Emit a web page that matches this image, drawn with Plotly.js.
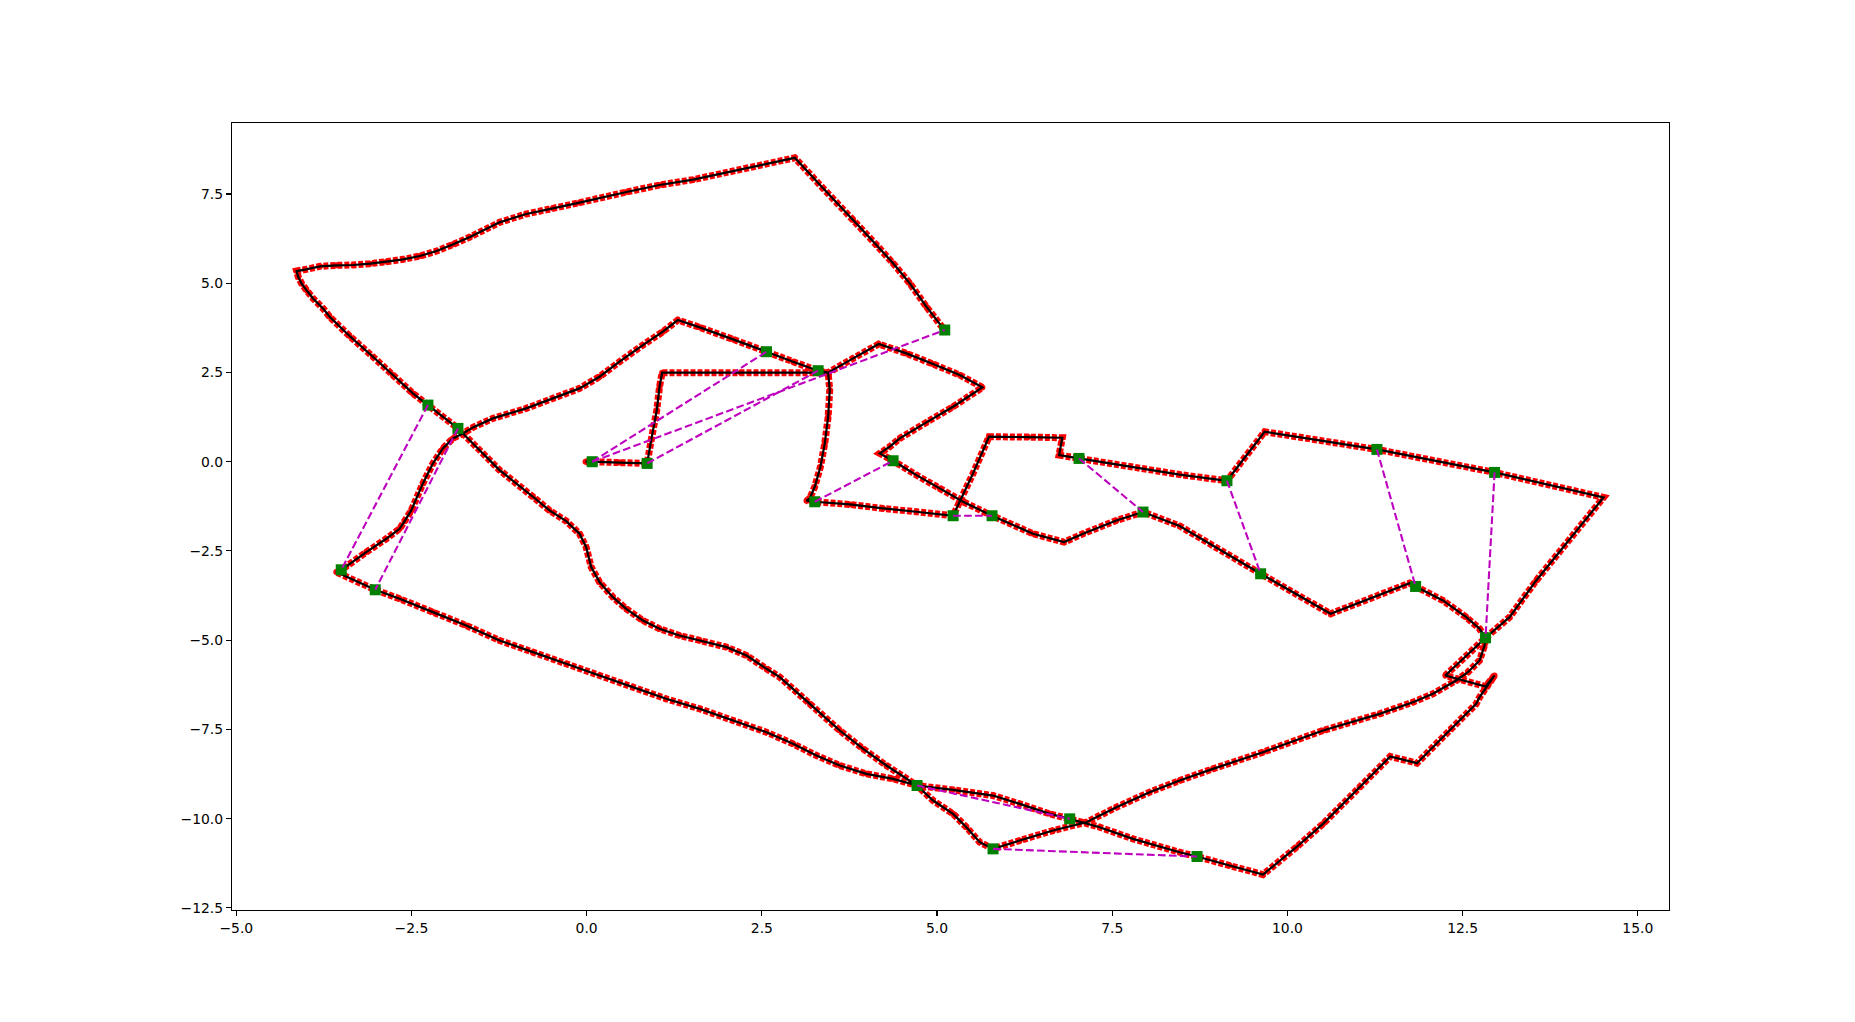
<!DOCTYPE html>
<html>
<head>
<meta charset="utf-8">
<script src="https://cdn.plot.ly/plotly-3.0.1.min.js"></script>
<style>
  html, body { margin: 0; padding: 0; background: #ffffff; }
  #chart { width: 1855px; height: 1022px; }
</style>
</head>
<body>
<div id="chart"></div>
<script>
// Trajectory (in travel order)
const pathX = [
  -0.016, 0.079, 0.470, 0.863, 0.921, 1.001, 1.040, 1.077, 2.200, 3.446,
  3.469, 3.446, 3.398, 3.336, 3.255, 3.184, 3.137, 3.255, 3.755, 4.230,
  4.706, 5.229, 5.514, 5.742, 6.300, 6.788, 6.741, 7.026, 8.462, 9.137,
  9.675, 11.277, 12.956, 14.511, 13.551, 13.170, 12.827, 12.253, 12.827, 12.956,
  12.742, 12.694, 12.338, 11.848, 11.467, 11.030, 10.507, 10.127, 9.651, 9.175,
  8.710, 8.462, 7.796, 7.321, 6.893, 6.608, 6.180, 5.799, 5.229, 4.715,
  4.373, 3.992, 3.612, 3.279, 2.946, 2.566, 2.090, 1.615, 1.135, 0.659,
  0.184, -0.292, -0.767, -1.243, -1.719, -2.194, -2.669, -3.017, -3.573, -3.502,
  -3.430, -3.145, -2.860, -2.669, -2.600, -2.503, -2.337, -2.194, -2.051, -1.909,
  -1.766, -1.623, -1.338, -0.863, -0.482, -0.102, 0.184, 0.469, 0.802, 1.088,
  1.301, 1.615, 2.090, 2.566, 2.946, 3.303, 3.446, 3.802, 4.168, 4.563,
  4.943, 5.324, 5.647, 5.229, 4.848, 4.468, 4.325, 4.183, 4.373, 4.706,
  5.039, 5.371, 5.785, 6.037, 6.370, 6.812, 7.083, 7.559, 7.939, 8.462,
  9.618, 10.616, 11.743, 11.829, 12.218, 12.552, 12.742, 12.827, 12.813, 12.742,
  12.575, 12.409, 12.076, 11.791, 11.315, 10.507, 9.651, 8.937, 8.462, 8.034,
  7.559, 7.131, 6.655, 6.180, 5.799, 5.609, 5.419, 5.229, 4.943, 4.715,
  4.278, 3.945, 3.612, 3.184, 2.756, 2.566, 2.281, 1.995, 1.615, 1.325,
  1.040, 0.802, 0.564, 0.374, 0.184, 0.065, -0.007, -0.102, -0.292, -0.530,
  -0.767, -1.243, -1.766, -1.837, -2.265, -2.479, -2.765, -3.050, -3.383, -3.668,
  -3.759, -3.901, -3.996, -4.067, -4.115, -4.139, -4.020, -3.806, -3.568, -3.331,
  -3.093, -2.855, -2.618, -2.380, -2.141, -1.904, -1.666, -1.243, -0.863, -0.482,
  -0.102, 0.569, 1.040, 1.519, 2.471, 2.970, 3.374, 3.802, 4.135, 4.373,
  4.611, 4.848, 5.086, 5.110
];
const pathY = [
  0.000, 0.000, -0.025, -0.048, 0.606, 1.447, 2.101, 2.494, 2.494, 2.494,
  2.008, 1.260, 0.513, -0.141, -0.702, -1.029, -1.094, -1.122, -1.197, -1.309,
  -1.402, -1.514, -0.328, 0.700, 0.690, 0.672, 0.186, 0.092, -0.360, -0.533,
  0.840, 0.345, -0.300, -1.001, -3.327, -4.355, -4.933, -5.989, -6.298, -5.989,
  -6.597, -6.784, -7.483, -8.446, -8.259, -9.119, -10.147, -10.801, -11.567, -11.315,
  -11.062, -10.941, -10.567, -10.240, -10.006, -9.866, -9.586, -9.353, -9.194, -9.072,
  -8.885, -8.745, -8.512, -8.231, -7.905, -7.578, -7.251, -6.924, -6.643, -6.316,
  -5.989, -5.662, -5.335, -5.008, -4.588, -4.214, -3.841, -3.588, -3.093, -3.028,
  -2.934, -2.533, -2.159, -1.879, -1.670, -1.365, -0.608, -0.048, 0.373, 0.653,
  0.793, 0.961, 1.214, 1.494, 1.774, 2.054, 2.381, 2.802, 3.269, 3.643,
  3.969, 3.764, 3.428, 3.082, 2.802, 2.550, 2.494, 2.895, 3.297, 3.035,
  2.736, 2.428, 2.082, 1.541, 1.101, 0.653, 0.420, 0.233, 0.027, -0.375,
  -0.748, -1.122, -1.514, -1.729, -2.019, -2.252, -2.019, -1.645, -1.410, -1.800,
  -3.140, -4.261, -3.402, -3.495, -3.887, -4.355, -4.681, -4.933, -5.147, -5.569,
  -5.897, -6.130, -6.502, -6.737, -7.064, -7.531, -8.138, -8.605, -8.932, -9.259,
  -9.680, -10.100, -10.334, -10.614, -10.847, -10.660, -10.240, -9.866, -9.493, -9.072,
  -8.512, -8.045, -7.531, -6.783, -6.036, -5.802, -5.429, -5.195, -5.008, -4.868,
  -4.681, -4.448, -4.121, -3.794, -3.374, -2.953, -2.393, -2.019, -1.664, -1.365,
  -0.982, -0.235, 0.793, 0.933, 1.587, 1.914, 2.428, 2.942, 3.521, 4.063,
  4.288, 4.568, 4.801, 4.989, 5.174, 5.342, 5.384, 5.474, 5.502, 5.511,
  5.549, 5.605, 5.670, 5.763, 5.903, 6.090, 6.295, 6.707, 6.940, 7.099,
  7.258, 7.556, 7.753, 7.903, 8.304, 8.515, 7.660, 6.772, 6.072, 5.558,
  4.997, 4.343, 3.736, 3.690
];

// Key poses (green squares)
const nodeX = [0.079, 0.863, 2.566, 3.303, 5.110, 3.255, 4.373, 5.229, 5.785, 7.026,
               7.939, 9.137, 9.618, 11.277, 11.829, 12.956, 12.827, -2.265, -3.502, -1.837,
               -3.017, 4.715, 6.893, 5.799, 8.710];
const nodeY = [0.000, -0.048, 3.082, 2.550, 3.690, -1.122, 0.027, -1.514, -1.514, 0.092,
               -1.410, -0.533, -3.140, 0.345, -3.495, -0.300, -4.933, 1.587, -3.028, 0.933,
               -3.588, -9.072, -10.006, -10.847, -11.062];

// Loop-closure links (indices into the key poses)
const linkFrom = [0, 0, 1, 5, 7, 9, 11, 13, 15, 17, 19, 21, 23];
const linkTo   = [2, 4, 3, 6, 8, 10, 12, 14, 16, 18, 20, 22, 24];

// Axis ticks
const xTickVals = [-5, -2.5, 0, 2.5, 5, 7.5, 10, 12.5, 15];
const xTickText = ['\u22125.0', '\u22122.5', '0.0', '2.5', '5.0', '7.5', '10.0', '12.5', '15.0'];
const yTickVals = [-12.5, -10, -7.5, -5, -2.5, 0, 2.5, 5, 7.5];
const yTickText = ['\u221212.5', '\u221210.0', '\u22127.5', '\u22125.0', '\u22122.5', '0.0', '2.5', '5.0', '7.5'];

// Build link segments separated by gaps
const linkX = [], linkY = [];
for (let i = 0; i < linkFrom.length; i++) {
  linkX.push(nodeX[linkFrom[i]], nodeX[linkTo[i]], null);
  linkY.push(nodeY[linkFrom[i]], nodeY[linkTo[i]], null);
}

const traces = [
  { // dense red point band
    x: pathX, y: pathY, type: 'scatter', mode: 'lines',
    line: { color: '#ff0000', width: 7, dash: '5px,2px', simplify: false },
    hoverinfo: 'skip'
  },
  { // red points
    x: pathX, y: pathY, type: 'scatter', mode: 'markers',
    marker: { color: '#ff0000', size: 6, line: { width: 0 } },
    hoverinfo: 'skip'
  },
  { // black trajectory line
    x: pathX, y: pathY, type: 'scatter', mode: 'lines',
    line: { color: '#000000', width: 2.2, simplify: false },
    hoverinfo: 'skip'
  },
  { // green key poses
    x: nodeX, y: nodeY, type: 'scatter', mode: 'markers',
    marker: { symbol: 'square', color: '#008000', size: 11, line: { color: '#008000', width: 0 } },
    hoverinfo: 'skip'
  },
  { // magenta dashed links
    x: linkX, y: linkY, type: 'scatter', mode: 'lines', connectgaps: false,
    line: { color: '#bf00bf', width: 2.1, dash: '7.7px,3.3px' },
    hoverinfo: 'skip'
  }
];

const axisCommon = {
  showgrid: false, zeroline: false,
  showline: true, linecolor: '#000000', linewidth: 1.1, mirror: true,
  ticks: 'outside', ticklen: 5, tickwidth: 1.1, tickcolor: '#000000',
  tickfont: { family: 'DejaVu Sans, sans-serif', size: 13.9, color: '#000000' },
  tickmode: 'array'
};

const layout = {
  width: 1855, height: 1022,
  paper_bgcolor: '#ffffff', plot_bgcolor: '#ffffff',
  showlegend: false,
  margin: { l: 232, r: 185.5, t: 122.6, b: 112.4, pad: 0 },
  xaxis: Object.assign({}, axisCommon, {
    range: [-5.061, 15.445], tickvals: xTickVals, ticktext: xTickText
  }),
  yaxis: Object.assign({}, axisCommon, {
    range: [-12.56, 9.49], tickvals: yTickVals, ticktext: yTickText
  })
};

Plotly.newPlot('chart', traces, layout, { staticPlot: true, displayModeBar: false });
</script>
</body>
</html>
